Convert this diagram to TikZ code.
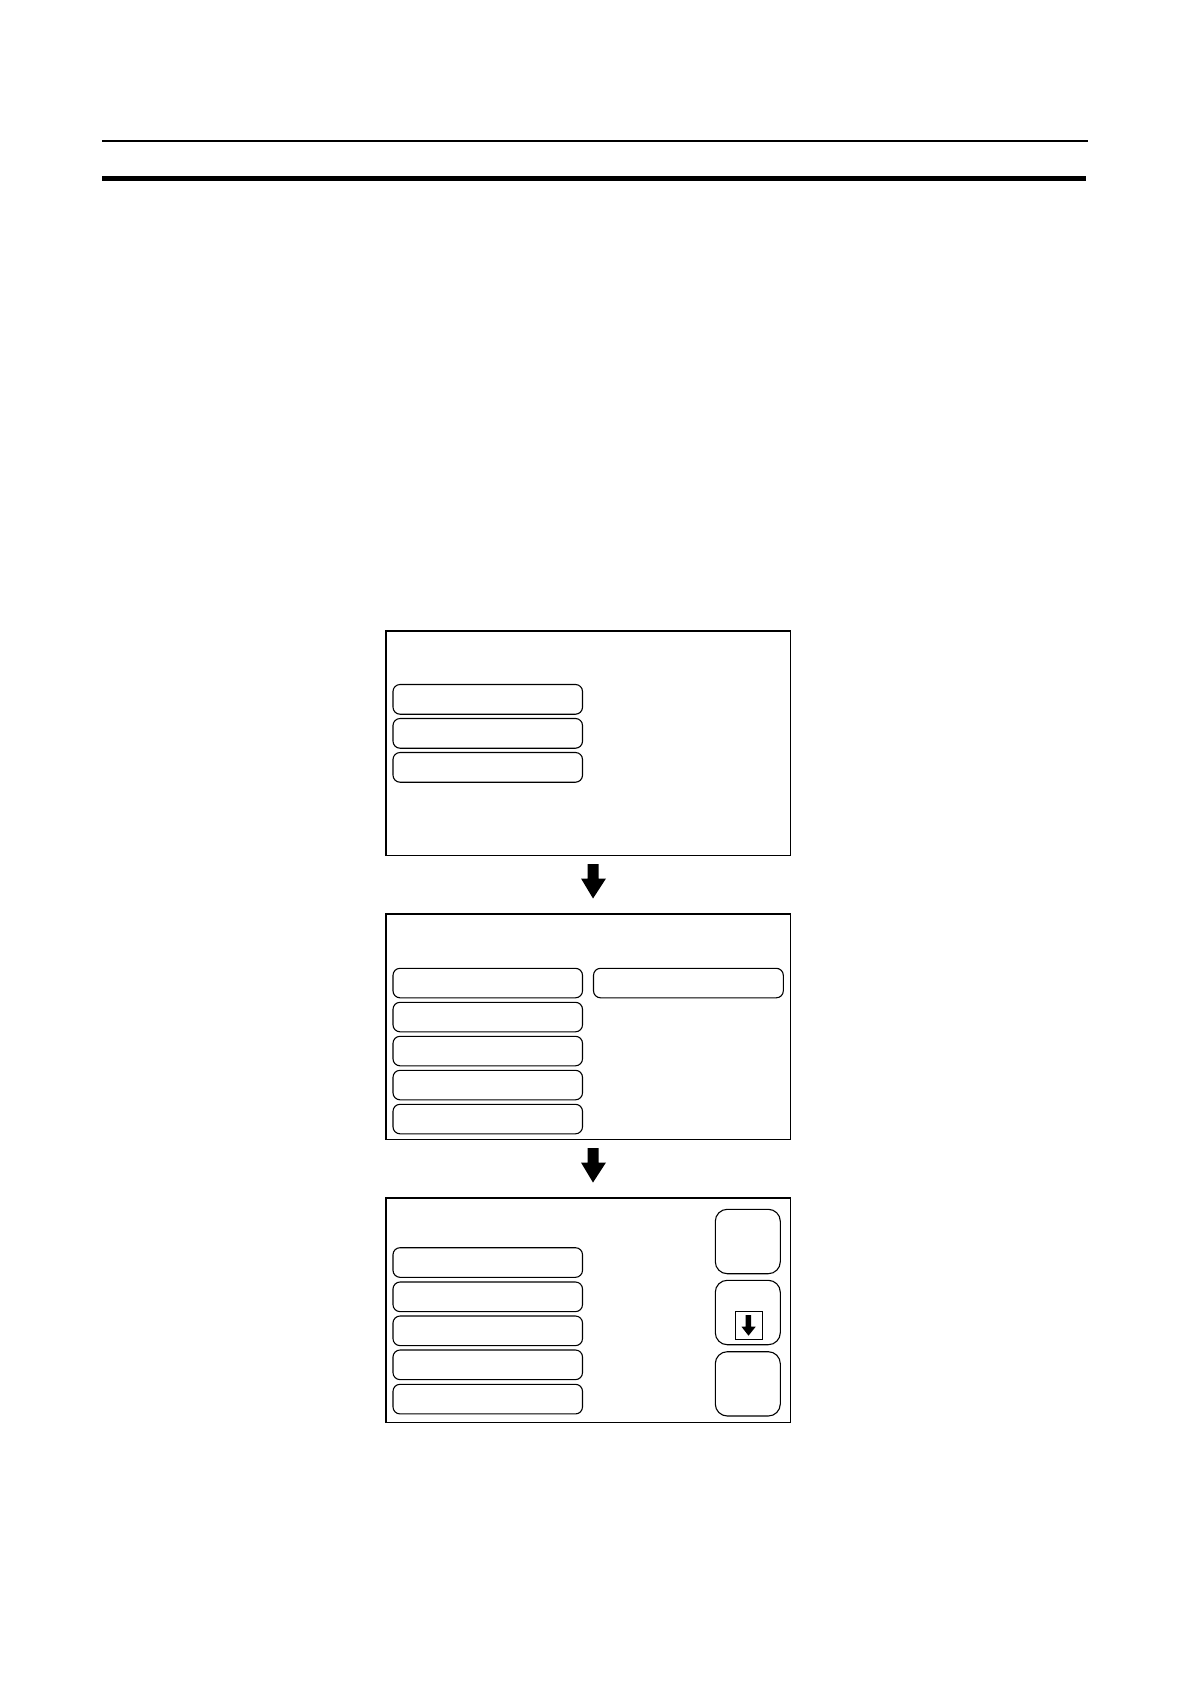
\documentclass[tikz,border=0pt]{standalone}
\begin{document}
\begin{tikzpicture}[x=1pt,y=-1pt,
  screen/.style={draw,line width=1.8pt,inner sep=0pt},
  btn/.style={draw,line width=1.1pt,rounded corners=7pt,inner sep=0pt},
  sqbtn/.style={draw,line width=1.1pt,rounded corners=12pt,inner sep=0pt},
  bigarrow/.style={fill=black}]
\useasboundingbox (0,0) rectangle (1190,1684);
% header rules
\draw[line width=2pt] (102,140.5) coordinate (t1) -- (1088,140.5) coordinate (t2);
\draw[line width=5pt] (102,178.5) coordinate (k1) -- (1086,178.5) coordinate (k2);
% screen 1
\draw[screen] (386,631) rectangle (790.5,855.5);
\foreach \y in {684.5,718.5,752.5}{
  \draw[btn] (393,\y) rectangle (582.5,\y+29.7);
}
% arrow 1
\fill[bigarrow] (587.5,864) -- (598.5,864) -- (598.5,878.5) -- (606,878.5) -- (593,898.5) -- (581,878.5) -- (587.5,878.5) -- cycle;
% screen 2
\draw[screen] (386,914) rectangle (790.5,1139.5);
\foreach \y in {968.3,1002.3,1036.3,1070.3,1104.3}{
  \draw[btn] (393,\y) rectangle (582.5,\y+29.5);
}
\draw[btn] (593.5,968.3) rectangle (783.3,997.8);
% arrow 2
\fill[bigarrow] (587.5,1148) -- (598.5,1148) -- (598.5,1162.5) -- (606,1162.5) -- (593,1182.5) -- (581,1162.5) -- (587.5,1162.5) -- cycle;
% screen 3
\draw[screen] (386,1198.3) rectangle (790.5,1422.5);
\foreach \y in {1247.7,1282,1316,1350,1384.3}{
  \draw[btn] (393,\y) rectangle (582.5,\y+29.6);
}
\draw[sqbtn] (715.3,1209.3) rectangle (780.3,1273.7);
\draw[sqbtn] (715.3,1280.3) rectangle (780.3,1344.7);
\draw[sqbtn] (715.3,1351.7) rectangle (780.3,1416);
\draw[line width=1pt] (735.5,1311.5) rectangle (762.7,1339.7);
\fill (745.7,1315) -- (751,1315) -- (751,1326.7) -- (755.7,1326.7) -- (748.5,1335.7) -- (741.5,1326.7) -- (745.7,1326.7) -- cycle;
\end{tikzpicture}
\end{document}
